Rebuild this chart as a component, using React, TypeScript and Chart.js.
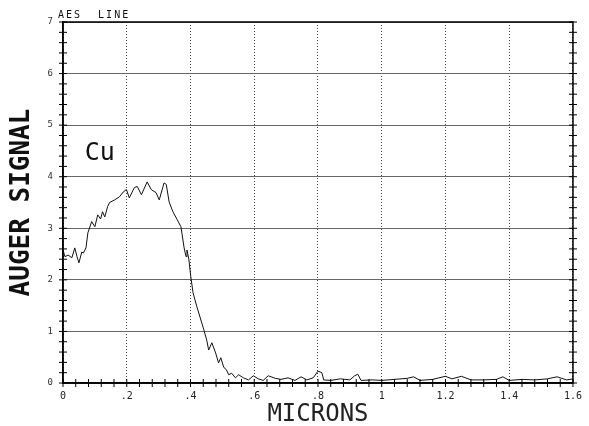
import { useEffect, useRef } from "react";
import { Chart, registerables } from "chart.js";

Chart.register(...registerables);

// Depth profile (microns) and Cu Auger signal
const MICRONS = [
  0.0, 0.006, 0.016, 0.028, 0.037, 0.044, 0.05, 0.059, 0.064, 0.072, 0.078, 0.09,
  0.1, 0.109, 0.118, 0.124, 0.131, 0.14, 0.146, 0.162, 0.177, 0.19, 0.199, 0.208,
  0.224, 0.233, 0.246, 0.264, 0.277, 0.292, 0.302, 0.317, 0.324, 0.333, 0.345,
  0.358, 0.37, 0.373, 0.38, 0.386, 0.389, 0.395, 0.401, 0.408, 0.42, 0.442, 0.451,
  0.457, 0.467, 0.479, 0.488, 0.495, 0.504, 0.513, 0.52, 0.529, 0.541, 0.551,
  0.566, 0.582, 0.597, 0.613, 0.628, 0.644, 0.666, 0.684, 0.706, 0.728, 0.747,
  0.765, 0.785, 0.8, 0.812, 0.818, 0.84, 0.87, 0.9, 0.915, 0.925, 0.935, 0.97, 1.0,
  1.04, 1.08, 1.1, 1.12, 1.16, 1.2, 1.22, 1.25, 1.28, 1.32, 1.36, 1.38, 1.4, 1.44,
  1.48, 1.52, 1.55, 1.58, 1.6,
];
const AUGER_SIGNAL = [
  2.58, 2.45, 2.48, 2.43, 2.62, 2.45, 2.33, 2.54, 2.52, 2.62, 2.91, 3.13,
  3.03, 3.26, 3.18, 3.32, 3.22, 3.42, 3.5, 3.55, 3.61, 3.71, 3.75, 3.59,
  3.79, 3.81, 3.65, 3.9, 3.75, 3.69, 3.55, 3.88, 3.85, 3.51, 3.32,
  3.17, 3.03, 2.91, 2.62, 2.45, 2.58, 2.39, 2.06, 1.75, 1.48, 1.03, 0.83,
  0.64, 0.78, 0.58, 0.39, 0.49, 0.31, 0.25, 0.16, 0.19, 0.1, 0.16,
  0.1, 0.06, 0.14, 0.08, 0.05, 0.14, 0.09, 0.07, 0.1, 0.05, 0.12,
  0.06, 0.1, 0.23, 0.2, 0.06, 0.05, 0.08, 0.06, 0.14, 0.17, 0.05, 0.06, 0.05,
  0.07, 0.09, 0.12, 0.05, 0.07, 0.13, 0.08, 0.13, 0.06, 0.06, 0.07, 0.12, 0.05, 0.07,
  0.06, 0.08, 0.12, 0.06, 0.08,
];

const X_TICK_LABELS = ["0", ".2", ".4", ".6", ".8", "1", "1.2", "1.4", "1.6"];
const Y_TICK_LABELS = ["0", "1", "2", "3", "4", "5", "6", "7"];
const X_TITLE = "MICRONS";
const Y_TITLE = "AUGER SIGNAL";
const ELEMENT_LABEL = "Cu";
const CORNER_NOTE = "AES  LINE";

const MONO = '"DejaVu Sans Mono", monospace';

const decorPlugin = {
  id: "decor",
  afterDraw(chart: any) {
    const { ctx, chartArea: a, scales } = chart;
    const x = scales.x;
    const y = scales.y;
    const seg = (x1: number, y1: number, x2: number, y2: number) => {
      ctx.beginPath();
      ctx.moveTo(x1, y1);
      ctx.lineTo(x2, y2);
      ctx.stroke();
    };
    ctx.save();
    ctx.strokeStyle = "#000";
    ctx.lineWidth = 1.5;
    ctx.strokeRect(a.left, a.top, a.right - a.left, a.bottom - a.top);
    ctx.lineWidth = 1;
    for (let i = 0; i <= 35; i++) {
      const py = y.getPixelForValue(i * 0.2);
      seg(a.left - 4, py, a.left + 4, py);
      seg(a.right - 4, py, a.right + 4, py);
    }
    for (let i = 0; i <= 40; i++) {
      const px = x.getPixelForValue(i * 0.04);
      seg(px, a.bottom - 4, px, a.bottom + 4);
    }
    ctx.fillStyle = "#111";
    ctx.font = `25px ${MONO}`;
    ctx.textAlign = "left";
    ctx.textBaseline = "middle";
    ctx.fillText(ELEMENT_LABEL, x.getPixelForValue(0.068), y.getPixelForValue(4.45));
    ctx.font = `10px ${MONO}`;
    (ctx as any).letterSpacing = "2px";
    ctx.textBaseline = "alphabetic";
    ctx.fillText(CORNER_NOTE, a.left - 5, a.top - 4);
    ctx.restore();
  },
};

export default function App() {
  const ref = useRef<HTMLCanvasElement | null>(null);

  useEffect(() => {
    if (!ref.current) return;
    const points = MICRONS.map((m, i) => ({ x: m, y: AUGER_SIGNAL[i] }));
    const chart = new Chart(ref.current, {
      type: "line",
      data: {
        datasets: [
          {
            data: points,
            borderColor: "#111",
            borderWidth: 1,
            pointRadius: 0,
            tension: 0,
            fill: false,
          },
        ],
      },
      plugins: [decorPlugin],
      options: {
        animation: false,
        responsive: false,
        maintainAspectRatio: false,
        layout: { padding: { top: 22, right: 12, left: 0, bottom: 0 } },
        plugins: {
          legend: { display: false },
          tooltip: { enabled: false },
        },
        scales: {
          x: {
            type: "linear",
            min: 0,
            max: 1.6,
            afterFit: (s: any) => {
              s.height = 43;
            },
            ticks: {
              stepSize: 0.2,
              padding: 7,
              color: "#222",
              font: { family: MONO, size: 10 },
              callback: (_v: any, i: number) => X_TICK_LABELS[i],
            },
            grid: { color: "#444", lineWidth: 1, drawTicks: false },
            border: { display: true, color: "#000", width: 1.5, dash: [1, 2] },
            title: {
              display: true,
              text: X_TITLE,
              color: "#222",
              font: { family: MONO, size: 24 },
              padding: { top: 0, bottom: -3 },
            },
          },
          y: {
            type: "linear",
            min: 0,
            max: 7,
            afterFit: (s: any) => {
              s.width = 63;
            },
            ticks: {
              stepSize: 1,
              padding: 10,
              color: "#333",
              font: { family: MONO, size: 9 },
              callback: (_v: any, i: number) => Y_TICK_LABELS[i],
            },
            grid: { color: "#666", lineWidth: 1, drawTicks: false },
            border: { display: true, color: "#000", width: 1.5 },
            title: {
              display: true,
              text: Y_TITLE,
              color: "#111",
              font: { family: MONO, size: 26, weight: "bold" },
              padding: { top: 7, bottom: 0 },
            },
          },
        },
      },
    } as any);
    return () => chart.destroy();
  }, []);

  return (
    <div style={{ position: "fixed", left: 0, top: 0, width: 589, height: 426, background: "#fff" }}>
      <canvas ref={ref} width={589} height={426} style={{ display: "block" }} />
    </div>
  );
}
